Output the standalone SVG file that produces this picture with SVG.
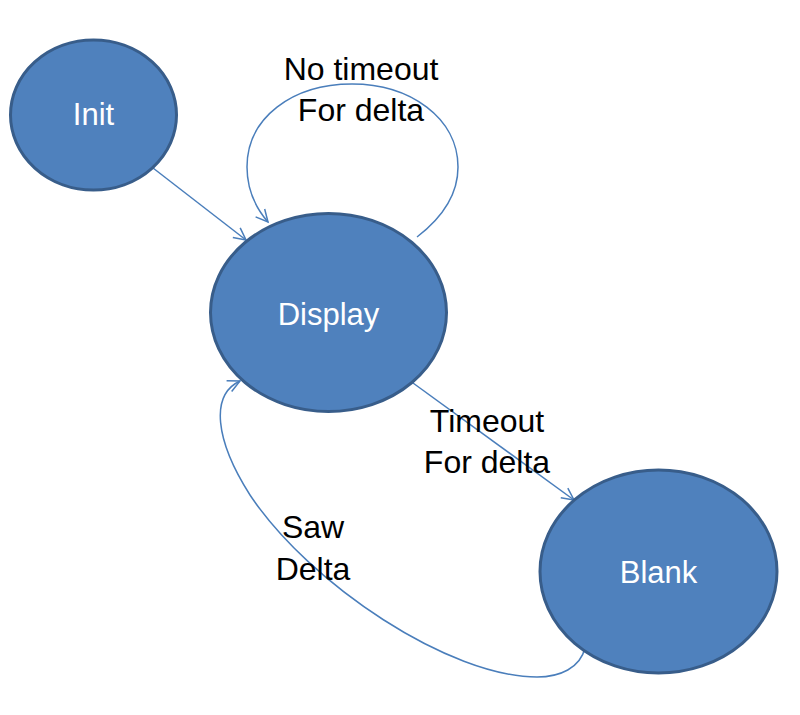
<svg xmlns="http://www.w3.org/2000/svg" width="800" height="715" viewBox="0 0 800 715">
<style>
.node{fill:#4f81bd;stroke:#385d8a;stroke-width:3}
.nl{fill:#ffffff;font-family:"Liberation Sans",Arial,sans-serif;font-size:31px;text-anchor:middle}
.el{fill:#000000;font-family:"Liberation Sans",Arial,sans-serif;font-size:32px;text-anchor:middle}
.edge{fill:none;stroke:#4a7ebb;stroke-width:1.5;marker-end:url(#arr)}
</style>
<defs>
<marker id="arr" markerUnits="userSpaceOnUse" markerWidth="16" markerHeight="16" refX="13" refY="7" orient="auto" viewBox="0 0 16 14">
<path d="M1,1 L13,7 L1,13" fill="none" stroke="#4a7ebb" stroke-width="1.5"/>
</marker>
</defs>
<rect width="800" height="715" fill="#ffffff"/>
<g id="connectors">
<path class="edge" d="M153,168 L246,240"/>
<path class="edge" d="M417,237 C447,214 458,190 458,167 C458,118 410,84 352,84 C292,84 247,118 247,167 C247,188 255,207 268,222"/>
<path class="edge" d="M413,383 L574,500"/>
<path class="edge" d="M585,648 C580,668 560,677 537,677 C450,677 310,585 250,495 C215,440 210,395 240,381"/>
<text class="el" x="361" y="80">No timeout</text>
<text class="el" x="361" y="121">For delta</text>
<text class="el" x="487" y="432">Timeout</text>
<text class="el" x="487" y="473">For delta</text>
<text class="el" x="313" y="538">Saw</text>
<text class="el" x="313" y="580">Delta</text>
</g>
<g id="init">
<ellipse class="node" cx="93.5" cy="115" rx="83" ry="75"/>
<text class="nl" x="93.5" y="125">Init</text>
</g>
<g id="display">
<ellipse class="node" cx="328.5" cy="312.5" rx="118" ry="99"/>
<text class="nl" x="328.5" y="325">Display</text>
</g>
<g id="blank">
<ellipse class="node" cx="658.5" cy="571.5" rx="118.5" ry="101.5"/>
<text class="nl" x="658.5" y="583">Blank</text>
</g>
</svg>
